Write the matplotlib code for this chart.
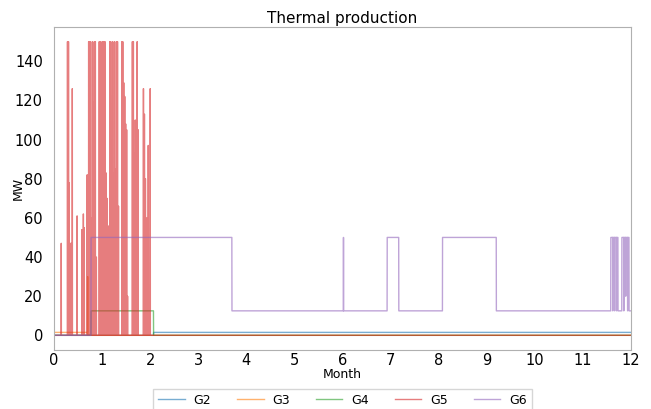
import numpy as np
import matplotlib
matplotlib.use("Agg")
import matplotlib.pyplot as plt

# ---- data (months, MW) ----
hours_per_month = 730
n_hours = 8760

# G2: constant level segments (start_month, end_month, MW)
g2_segments = [(2.07, 12.0, 1.5)]
# G3
g3_segments = [(0.0, 0.70, 1.5)]
g3_pulses = [(0.70, 30)]
# G4
g4_segments = [(0.77, 2.07, 12.5)]
# G5 spikes (month, MW)
g5_pulses = [
    (0.15, 47), (0.28, 150), (0.30, 150), (0.31, 78), (0.34, 47), (0.36, 47),
    (0.38, 126), (0.48, 61), (0.58, 54), (0.61, 62), (0.63, 55), (0.69, 82),
    (0.72, 150), (0.74, 150), (0.76, 150), (0.78, 60), (0.80, 150), (0.82, 119),
    (0.84, 150), (0.86, 150), (0.88, 40), (0.94, 150), (0.96, 150),
    (0.98, 55), (1.00, 150), (1.02, 150), (1.04, 150), (1.06, 150), (1.08, 83),
    (1.10, 70), (1.12, 56), (1.16, 150), (1.18, 150), (1.20, 80),
    (1.22, 150), (1.24, 83), (1.26, 150), (1.28, 85), (1.30, 150), (1.32, 150),
    (1.34, 66), (1.41, 150), (1.43, 150), (1.45, 129),
    (1.47, 122), (1.49, 108), (1.51, 105), (1.53, 20),
    (1.63, 150), (1.65, 150), (1.67, 93), (1.69, 110), (1.73, 150),
    (1.75, 105), (1.86, 126), (1.88, 113), (1.90, 80), (1.93, 60),
    (1.96, 97), (2.00, 126),
]
# G6 segments and pulses
g6_segments = [(0.77, 3.70, 50), (3.70, 12.0, 12.5), (6.93, 7.17, 50),
               (8.08, 9.20, 50), (11.58, 11.73, 50), (11.81, 11.96, 50)]
g6_pulses = [(6.02, 50), (11.62, 12.5), (11.66, 12.5), (11.70, 12.5),
             (11.85, 12.5), (11.89, 20), (11.93, 12.5)]

series_names = ["G2", "G3", "G4", "G5", "G6"]
colors = ["tab:blue", "tab:orange", "tab:green", "tab:red", "tab:purple"]

t = np.arange(n_hours) / hours_per_month


def build(segments, pulses, width=2):
    y = np.zeros(n_hours)
    for a, b, v in segments:
        y[int(a * hours_per_month):int(b * hours_per_month)] = v
    for m, v in pulses:
        i = int(m * hours_per_month)
        y[i:i + width] = v
    return y


data = [
    build(g2_segments, []),
    build(g3_segments, g3_pulses),
    build(g4_segments, []),
    build([], g5_pulses, width=2),
    build(g6_segments, g6_pulses, width=2),
]

fig = plt.figure(figsize=(6.51, 4.09), dpi=100)
ax = fig.add_axes([54 / 651, 1 - 350 / 409, (631 - 54) / 651, (350 - 27) / 409])
for y, name, c in zip(data, series_names, colors):
    ax.plot(t, y, color=c, alpha=0.6, lw=1.0, label=name)

ax.set_xlim(0, 12)
ax.set_ylim(-7.5, 157.5)
ax.set_xticks(range(0, 13))
ax.set_yticks(range(0, 141, 20))
ax.tick_params(labelsize=10.5, length=0)
ax.tick_params(axis="x", pad=2)
ax.tick_params(axis="y", pad=8)
for s in ax.spines.values():
    s.set_color("#b0b0b0")
ax.set_title("Thermal production", fontsize=11, pad=3)
ax.set_xlabel("Month", fontsize=9, labelpad=0)
ax.set_ylabel("MW", fontsize=9)
ax.yaxis.set_label_coords(-0.05, 0.5)
leg = ax.legend(loc="upper center", bbox_to_anchor=(0.5, -0.12), ncol=5,
                fontsize=9, handlelength=2.1, handletextpad=0.7,
                columnspacing=2.1, frameon=True, fancybox=False,
                borderaxespad=0)
leg.get_frame().set_edgecolor("#cccccc")
fig.savefig("out.png", dpi=100)
